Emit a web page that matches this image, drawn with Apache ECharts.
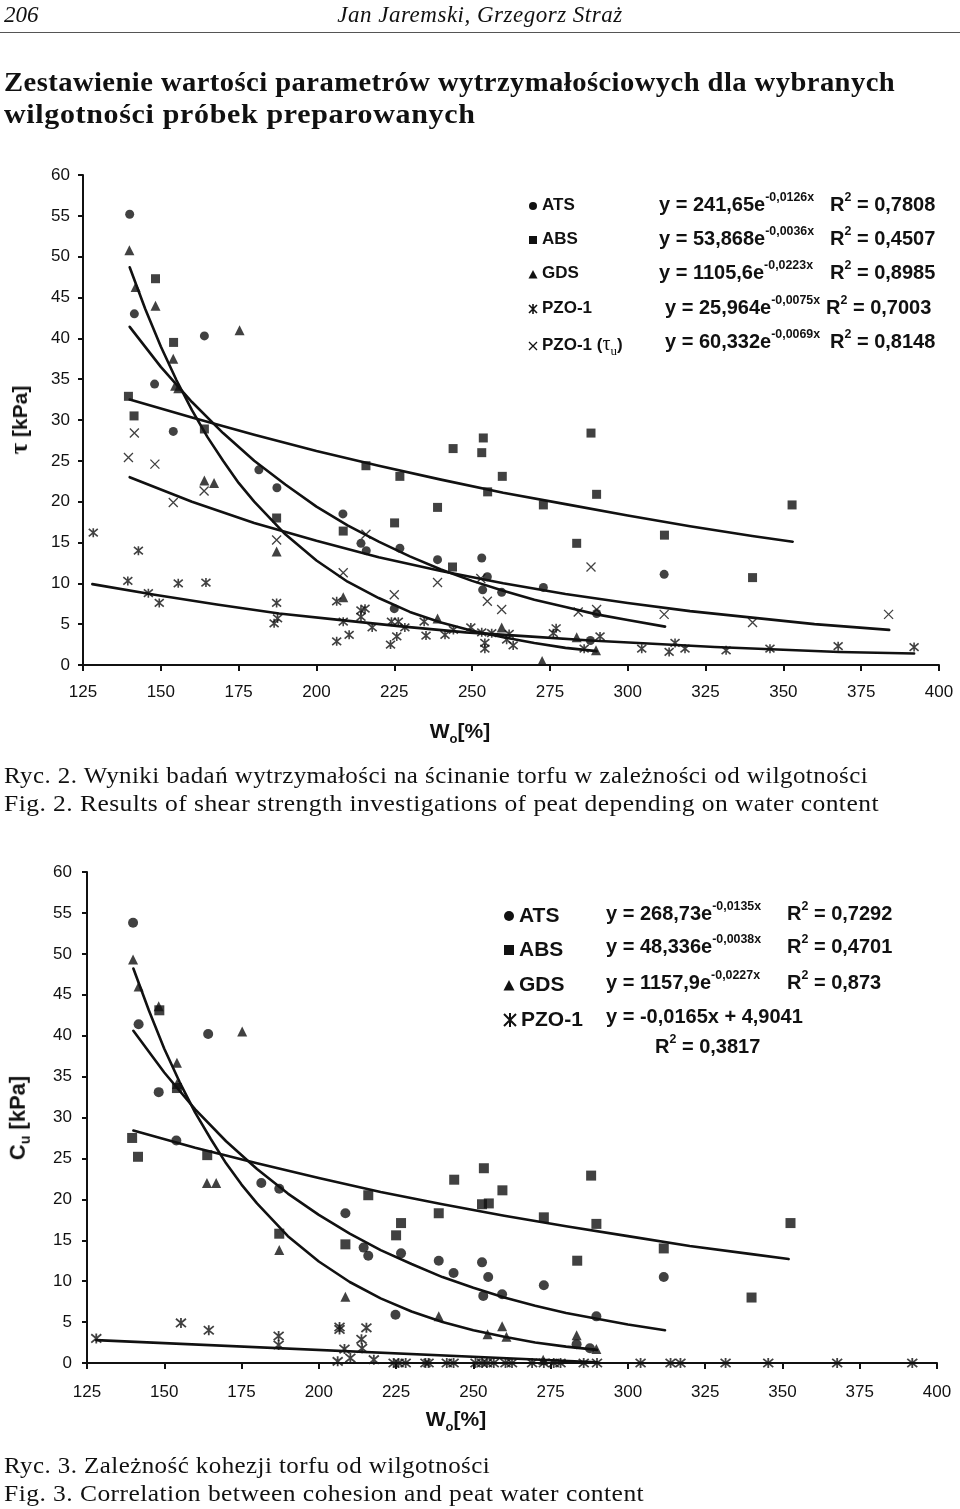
<!DOCTYPE html>
<html>
<head>
<meta charset="utf-8">
<script src="https://cdn.jsdelivr.net/npm/echarts@6/dist/echarts.min.js"></script>
<style>
  html,body{margin:0;padding:0;background:#fff;}
  #page{position:relative;width:960px;height:1509px;overflow:hidden;background:#fff;}
  #chart{position:absolute;left:0;top:0;width:960px;height:1509px;}
  .t{position:absolute;white-space:nowrap;color:#111;}
  .serif{font-family:"Liberation Serif","DejaVu Serif",serif;}
  .cap{font-size:23px;letter-spacing:0.4px;transform-origin:0 50%;}
  .sans{font-family:"Liberation Sans",Arial,sans-serif;font-weight:bold;}
  .eq sup{font-size:0.62em;position:relative;top:-0.15em;}
  .rot{transform:translate(-50%,-50%) rotate(-90deg);}
  .mk{display:inline-block;vertical-align:middle;margin-right:4px;}
</style>
</head>
<body>
<div id="page">
  <div id="chart"></div>

  <div class="t serif" style="left:4px;top:2px;font-size:23px;font-style:italic;">206</div>
  <div class="t serif" style="left:480px;top:2px;font-size:23px;font-style:italic;letter-spacing:0.5px;transform:translateX(-50%);">Jan Jaremski, Grzegorz Straż</div>
  <div style="position:absolute;left:0;top:32px;width:960px;height:1px;background:#555;"></div>

  <div class="t serif" style="left:4px;top:67px;font-size:27px;font-weight:bold;letter-spacing:0.4px;transform-origin:0 50%;transform:scaleX(1.06);">Zestawienie wartości parametrów wytrzymałościowych dla wybranych</div>
  <div class="t serif" style="left:4px;top:99px;font-size:27px;font-weight:bold;letter-spacing:0.6px;transform-origin:0 50%;transform:scaleX(1.11);">wilgotności próbek preparowanych</div>

  <!-- Chart 1 legend -->
  <div class="t sans" style="left:528px;top:195px;font-size:17px;"><svg class="mk" width="10" height="10"><circle cx="5" cy="5" r="4" fill="#111"/></svg>ATS</div>
  <div class="t sans" style="left:528px;top:229px;font-size:17px;"><svg class="mk" width="10" height="10"><rect x="1" y="1" width="8" height="8" fill="#111"/></svg>ABS</div>
  <div class="t sans" style="left:528px;top:263px;font-size:17px;"><svg class="mk" width="10" height="10"><polygon points="5,1 9.5,9.5 0.5,9.5" fill="#111"/></svg>GDS</div>
  <div class="t sans" style="left:528px;top:298px;font-size:17px;"><svg class="mk" width="10" height="10"><path d="M1,1L9,9M9,1L1,9M5,0L5,10" stroke="#111" stroke-width="1.6"/></svg>PZO-1</div>
  <div class="t sans" style="left:528px;top:332px;font-size:17px;"><svg class="mk" width="10" height="10"><path d="M1,1L9,9M9,1L1,9" stroke="#111" stroke-width="1.3"/></svg>PZO-1 (<span style="font-family:'Liberation Serif',serif;font-weight:normal;font-size:20px;">τ<sub style="font-size:13px;">u</sub></span>)</div>

  <div class="t sans eq" style="left:659px;top:192px;font-size:20px;">y = 241,65e<sup>-0,0126x</sup></div>
  <div class="t sans eq" style="left:659px;top:226px;font-size:20px;">y = 53,868e<sup>-0,0036x</sup></div>
  <div class="t sans eq" style="left:659px;top:260px;font-size:20px;">y = 1105,6e<sup>-0,0223x</sup></div>
  <div class="t sans eq" style="left:665px;top:295px;font-size:20px;">y = 25,964e<sup>-0,0075x</sup></div>
  <div class="t sans eq" style="left:665px;top:329px;font-size:20px;">y = 60,332e<sup>-0,0069x</sup></div>

  <div class="t sans eq" style="left:830px;top:192px;font-size:20px;">R<sup>2</sup> = 0,7808</div>
  <div class="t sans eq" style="left:830px;top:226px;font-size:20px;">R<sup>2</sup> = 0,4507</div>
  <div class="t sans eq" style="left:830px;top:260px;font-size:20px;">R<sup>2</sup> = 0,8985</div>
  <div class="t sans eq" style="left:826px;top:295px;font-size:20px;">R<sup>2</sup> = 0,7003</div>
  <div class="t sans eq" style="left:830px;top:329px;font-size:20px;">R<sup>2</sup> = 0,8148</div>

  <!-- Chart 1 axis titles -->
  <div class="t sans rot" style="left:19px;top:420px;font-size:21px;"><span style="font-family:'Liberation Serif',serif;font-size:25px;">τ</span> [kPa]</div>
  <div class="t sans" style="left:460px;top:719px;font-size:21px;transform:translateX(-50%);">W<sub style="font-size:13px;">o</sub>[%]</div>

  <div class="t serif cap" style="left:4px;top:763px;transform:scaleX(1.085);">Ryc. 2. Wyniki badań wytrzymałości na ścinanie torfu w zależności od wilgotności</div>
  <div class="t serif cap" style="left:4px;top:791px;transform:scaleX(1.11);">Fig. 2. Results of shear strength investigations of peat depending on water content</div>

  <!-- Chart 2 legend -->
  <div class="t sans" style="left:503px;top:903px;font-size:21px;"><svg class="mk" width="12" height="12"><circle cx="6" cy="6" r="5" fill="#111"/></svg>ATS</div>
  <div class="t sans" style="left:503px;top:937px;font-size:21px;"><svg class="mk" width="12" height="12"><rect x="1" y="1" width="10" height="10" fill="#111"/></svg>ABS</div>
  <div class="t sans" style="left:503px;top:972px;font-size:21px;"><svg class="mk" width="12" height="12"><polygon points="6,1 11.5,11.5 0.5,11.5" fill="#111"/></svg>GDS</div>
  <div class="t sans" style="left:503px;top:1007px;font-size:21px;"><svg class="mk" width="14" height="14"><path d="M1,1L13,13M13,1L1,13M7,0L7,14" stroke="#111" stroke-width="2"/></svg>PZO-1</div>

  <div class="t sans eq" style="left:606px;top:901px;font-size:20px;">y = 268,73e<sup>-0,0135x</sup></div>
  <div class="t sans eq" style="left:606px;top:934px;font-size:20px;">y = 48,336e<sup>-0,0038x</sup></div>
  <div class="t sans eq" style="left:606px;top:970px;font-size:20px;">y = 1157,9e<sup>-0,0227x</sup></div>
  <div class="t sans eq" style="left:606px;top:1005px;font-size:20px;">y = -0,0165x + 4,9041</div>
  <div class="t sans eq" style="left:787px;top:901px;font-size:20px;">R<sup>2</sup> = 0,7292</div>
  <div class="t sans eq" style="left:787px;top:934px;font-size:20px;">R<sup>2</sup> = 0,4701</div>
  <div class="t sans eq" style="left:787px;top:970px;font-size:20px;">R<sup>2</sup> = 0,873</div>
  <div class="t sans eq" style="left:655px;top:1034px;font-size:20px;">R<sup>2</sup> = 0,3817</div>

  <!-- Chart 2 axis titles -->
  <div class="t sans rot" style="left:19px;top:1118px;font-size:22px;">C<sub style="font-size:14px;">u</sub> [kPa]</div>
  <div class="t sans" style="left:456px;top:1407px;font-size:21px;transform:translateX(-50%);">W<sub style="font-size:13px;">o</sub>[%]</div>

  <div class="t serif cap" style="left:4px;top:1453px;transform:scaleX(1.085);">Ryc. 3. Zależność kohezji torfu od wilgotności</div>
  <div class="t serif cap" style="left:4px;top:1481px;transform:scaleX(1.11);">Fig. 3. Correlation between cohesion and peat water content</div>
</div>

<script>
// ---------------- Data: Fig. 2 (shear strength tau [kPa] vs W_o [%]) ----------------
var xTicks = [125,150,175,200,225,250,275,300,325,350,375,400];
var yTicks = [0,5,10,15,20,25,30,35,40,45,50,55,60];

var f2_ATS = [[140,55.2],[141.5,43.0],[148,34.4],[154,28.6],[164,40.3],[181.5,23.9],[187.3,21.7],[208.5,18.5],[214.3,14.9],[216,14.0],[226.8,14.3],[225,6.9],[238.9,12.9],[253.1,13.1],[254.9,10.8],[253.4,9.2],[259.5,8.9],[272.9,9.5],[288,3.0],[290,6.3],[311.7,11.1]];
var f2_ABS = [[148.3,47.3],[154.1,39.5],[139.6,32.9],[141.4,30.5],[164,28.9],[215.9,24.4],[187.2,18.0],[208.6,16.4],[226.8,23.1],[243.9,26.5],[253.6,27.8],[253.1,26.0],[259.7,23.1],[255,21.2],[238.9,19.3],[225.1,17.4],[243.7,12.0],[272.9,19.6],[288.2,28.4],[290,20.9],[283.6,14.9],[311.8,15.9],[352.8,19.6],[340.1,10.7]];
var f2_GDS = [[139.9,50.8],[141.9,46.3],[148.3,44.0],[154,37.5],[154.6,34.2],[155.6,33.9],[175.3,41.0],[164,22.6],[167.1,22.3],[187.2,13.9],[208.6,8.3],[238.9,5.7],[259.5,4.6],[272.5,0.5],[283.6,3.4],[289.8,1.8]];
var f2_PZO = [[128.3,16.2],[142.8,14.0],[139.4,10.3],[146,8.8],[149.5,7.6],[155.6,10.0],[164.5,10.1],[187.2,7.6],[186.4,5.1],[187.5,5.7],[206.5,7.8],[208.6,5.3],[206.5,2.9],[210.5,3.7],[214.3,6.7],[214.3,5.9],[215.6,6.9],[217.9,4.6],[224.1,5.3],[226.3,5.3],[225.8,3.5],[223.8,2.5],[228.4,4.6],[235.2,3.6],[234.6,5.3],[241.3,3.7],[244,4.3],[249.6,4.6],[253.1,4.0],[254.1,2.0],[254.1,2.7],[256.3,3.9],[261.1,3.1],[263.2,2.4],[261.9,3.8],[276.1,3.9],[277,4.5],[286,2.0],[291.1,3.5],[304.5,2.0],[315.2,2.7],[313.3,1.6],[318.4,2.0],[331.6,1.8],[345.7,2.0],[367.6,2.3],[392,2.2]];
var f2_PZOtau = [[141.5,28.4],[139.6,25.4],[148.1,24.6],[154,19.9],[163.9,21.3],[187.2,15.3],[208.6,11.3],[215.9,16.0],[238.9,10.1],[225,8.6],[252.8,10.6],[254.9,7.8],[259.5,6.8],[284.1,6.5],[290,6.8],[288.2,12.0],[311.7,6.2],[340.1,5.2],[383.8,6.2]];

// trend curves
var f2_ATS_fit = [[140,41.4],[150,36.5],[160,32.2],[170,28.4],[180,25.0],[190,22.1],[200,19.4],[210,17.1],[220,15.1],[230,13.3],[240,11.7],[250,10.3],[260,9.1],[270,8.0],[280,7.1],[290,6.2],[300,5.5],[312,4.7]];
var f2_ABS_fit = [[140,32.5],[160,30.3],[180,28.2],[200,26.2],[220,24.4],[240,22.7],[260,21.1],[280,19.7],[300,18.3],[320,17.0],[340,15.8],[353,15.1]];
var f2_GDS_fit = [[140,48.7],[145,43.6],[150,39.0],[155,34.9],[160,31.2],[165,27.9],[170,25.0],[175,22.3],[180,20.0],[190,16.0],[200,12.8],[210,10.2],[220,8.2],[230,6.5],[240,5.2],[250,4.2],[260,3.4],[270,2.7],[280,2.1],[290,1.7]];
var f2_PZO_fit = [[128,9.9],[148,8.6],[168,7.4],[188,6.3],[208,5.5],[228,4.7],[248,4.0],[268,3.5],[288,3.0],[308,2.6],[328,2.2],[348,1.9],[368,1.6],[392,1.4]];
var f2_PZOtau_fit = [[140,23.0],[160,20.0],[180,17.4],[200,15.2],[220,13.2],[240,11.5],[260,10.0],[280,8.7],[300,7.6],[320,6.6],[340,5.8],[360,5.0],[384,4.3]];

// ---------------- Data: Fig. 3 (cohesion C_u [kPa] vs W_o [%]) ----------------
var f3_ATS = [[139.9,53.8],[141.7,41.4],[164.2,40.2],[148.2,33.1],[153.9,27.2],[181.4,22.0],[187.2,21.3],[208.6,18.3],[214.5,14.1],[216,13.1],[226.6,13.4],[238.8,12.5],[252.8,12.3],[243.6,11.0],[254.8,10.5],[253.2,8.2],[259.3,8.4],[272.8,9.5],[289.8,5.7],[224.8,5.9],[283.4,2.3],[287.7,1.8],[311.6,10.5]];
var f3_ABS = [[148.4,43.1],[154.1,33.6],[139.6,27.5],[141.5,25.2],[163.9,25.4],[187.2,15.8],[208.6,14.5],[216,20.5],[226.6,17.1],[225,15.6],[238.8,18.3],[243.8,22.4],[253.4,23.8],[252.8,19.4],[255,19.5],[259.4,21.1],[272.8,17.8],[288.1,22.9],[289.8,17.0],[283.6,12.5],[311.6,14.0],[352.6,17.1],[340,8.0]];
var f3_GDS = [[139.9,49.3],[141.7,46.0],[148.2,43.6],[154.1,36.7],[154.1,34.1],[175.2,40.5],[163.8,22.0],[166.8,22.0],[187.2,13.8],[208.6,8.1],[238.8,5.7],[259.3,4.5],[254.6,3.5],[260.7,3.2],[283.4,3.4],[289.8,1.7],[272.6,0.4]];
var f3_PZO = [[128,3.0],[155.4,4.9],[164.4,4.0],[187,3.3],[187,2.2],[206.7,4.4],[206.7,4.1],[215.4,4.3],[213.8,2.9],[214,1.8],[208.3,1.7],[210.2,0.6],[206.1,0.2],[217.8,0.4],[224.2,0],[225.8,0],[228.1,0],[234.5,0],[235.5,0],[241.4,0],[243.6,0],[250.7,0],[252.8,0],[254.4,0],[256.6,0],[260.4,0],[262.5,0],[269,0],[272.8,0],[276,0],[278.2,0],[285.7,0],[290,0],[304.1,0],[313.8,0],[317,0],[331.6,0],[345.4,0],[367.7,0],[392,0]];

var f3_ATS_fit = [[140,40.6],[150,35.5],[160,31.0],[170,27.1],[180,23.7],[190,20.7],[200,18.1],[210,15.8],[220,13.8],[230,12.1],[240,10.5],[250,9.2],[260,8.0],[270,7.0],[280,6.1],[290,5.4],[300,4.7],[312,4.0]];
var f3_ABS_fit = [[140,28.4],[160,26.3],[180,24.4],[200,22.6],[220,20.9],[240,19.4],[260,18.0],[280,16.7],[300,15.5],[320,14.3],[340,13.3],[352,12.7]];
var f3_GDS_fit = [[140,48.2],[145,43.1],[150,38.4],[155,34.3],[160,30.6],[165,27.4],[170,24.4],[175,21.8],[180,19.5],[190,15.5],[200,12.4],[210,9.9],[220,7.9],[230,6.3],[240,5.0],[250,4.0],[260,3.2],[270,2.5],[280,2.0],[290,1.6]];
var f3_PZO_fit = [[128,2.8],[290,0.1]];

// ---------------- Chart ----------------
var INK = '#111';
var STAR = 'path://M0,0L10,10M10,0L0,10M5,-1L5,11';
var CROSS = 'path://M0,0L10,10M10,0L0,10';

function xAx(g, margin){
  return {gridIndex:g, type:'value', min:xTicks[0], max:xTicks[xTicks.length-1], interval:25,
    axisLine:{show:true, onZero:false, lineStyle:{color:INK, width:2}},
    axisTick:{show:true, length:6, lineStyle:{color:INK, width:2}},
    axisLabel:{color:INK, fontFamily:'Liberation Sans', fontSize:17, margin:margin},
    splitLine:{show:false}};
}
function yAx(g, margin){
  return {gridIndex:g, type:'value', min:yTicks[0], max:yTicks[yTicks.length-1], interval:5,
    axisLine:{show:true, onZero:false, lineStyle:{color:INK, width:2}},
    axisTick:{show:true, length:5, lineStyle:{color:INK, width:2}},
    axisLabel:{color:INK, fontFamily:'Liberation Sans', fontSize:17, margin:margin},
    splitLine:{show:false}};
}
function sc(g, data, symbol, size, stroke){
  var s = {type:'scatter', xAxisIndex:g, yAxisIndex:g, data:data, symbol:symbol, symbolSize:size,
    clip:false, z:5, silent:true};
  if (stroke){ s.itemStyle = {color:'rgba(0,0,0,0)', borderColor:INK, borderWidth:stroke}; }
  else { s.itemStyle = {color:INK}; }
  return s;
}
function ln(g, data){
  return {type:'line', xAxisIndex:g, yAxisIndex:g, data:data, smooth:false,
    showSymbol:false, symbol:'none', clip:false, z:3, silent:true,
    lineStyle:{color:INK, width:2.6, join:'round', cap:'round'}};
}

var chart = echarts.init(document.getElementById('chart'), null, {renderer:'canvas'});
chart.setOption({
  animation:false,
  backgroundColor:'transparent',
  grid:[{left:83, top:175, width:856, height:490},{left:87, top:872, width:850, height:491}],
  xAxis:[xAx(0,19), xAx(1,21)],
  yAxis:[yAx(0,13), yAx(1,15)],
  series:[
    ln(0,f2_ATS_fit), ln(0,f2_ABS_fit), ln(0,f2_GDS_fit), ln(0,f2_PZO_fit), ln(0,f2_PZOtau_fit),
    sc(0,f2_ATS,'circle',9), sc(0,f2_ABS,'rect',9), sc(0,f2_GDS,'triangle',10),
    sc(0,f2_PZO,STAR,9,1.6), sc(0,f2_PZOtau,CROSS,9,1.3),
    ln(1,f3_ATS_fit), ln(1,f3_ABS_fit), ln(1,f3_GDS_fit), ln(1,f3_PZO_fit),
    sc(1,f3_ATS,'circle',10), sc(1,f3_ABS,'rect',10), sc(1,f3_GDS,'triangle',10),
    sc(1,f3_PZO,STAR,10,1.8)
  ]
});
</script>
</body>
</html>
